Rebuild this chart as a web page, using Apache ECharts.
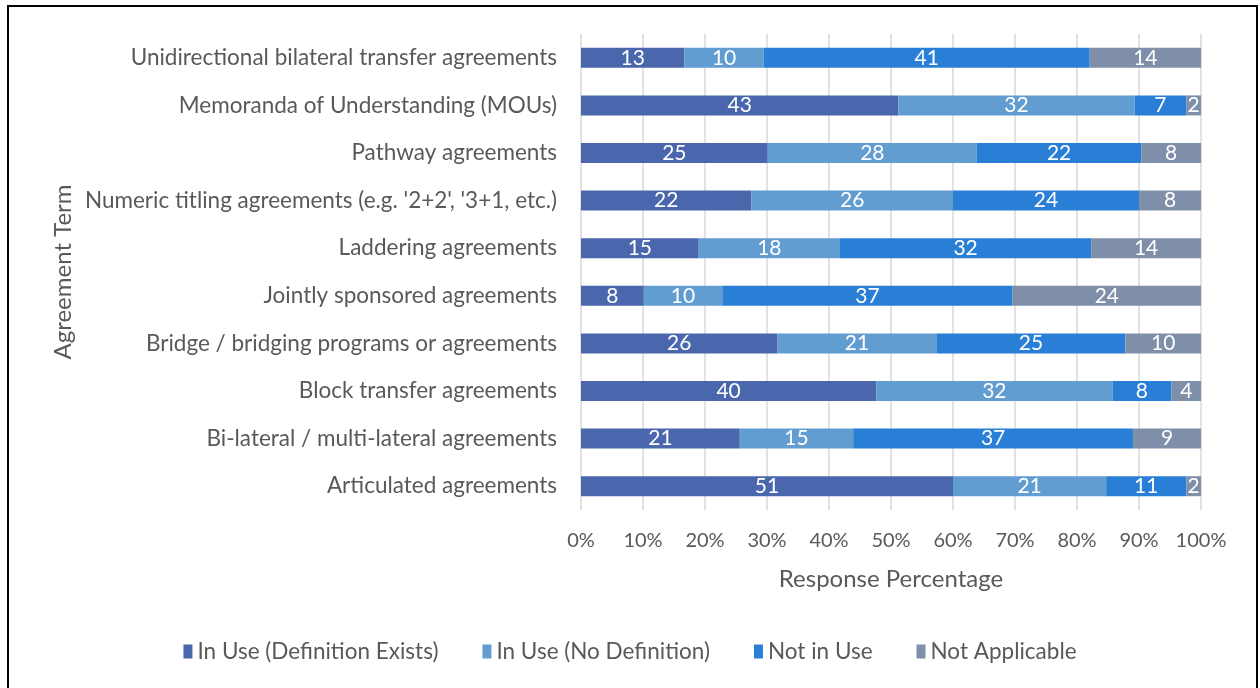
<!DOCTYPE html>
<html><head><meta charset="utf-8">
<script src="https://cdn.jsdelivr.net/npm/echarts@6/dist/echarts.min.js"></script>
<style>html,body{margin:0;padding:0;background:#fff}#c{width:1260px;height:688px}</style>
</head><body><div id="c"></div>
<script>
const categories = [
  "Unidirectional bilateral transfer agreements",
  "Memoranda of Understanding (MOUs)",
  "Pathway agreements",
  "Numeric titling agreements (e.g. '2+2', '3+1, etc.)",
  "Laddering agreements",
  "Jointly sponsored agreements",
  "Bridge / bridging programs or agreements",
  "Block transfer agreements",
  "Bi-lateral / multi-lateral agreements",
  "Articulated agreements"
];
const seriesNames = ["In Use (Definition Exists)", "In Use (No Definition)", "Not in Use", "Not Applicable"];
const inUseDefined = [13, 43, 25, 22, 15, 8, 26, 40, 21, 51];
const inUseNoDef   = [10, 32, 28, 26, 18, 10, 21, 32, 15, 21];
const notInUse     = [41, 7, 22, 24, 32, 37, 25, 8, 37, 11];
const notApplicable= [14, 2, 8, 8, 14, 24, 10, 4, 9, 2];
const colors = ["#4a66ac", "#629dd1", "#297fd5", "#7f8fa9"];

const counts = [inUseDefined, inUseNoDef, notInUse, notApplicable];
const totals = categories.map((_, i) => counts.reduce((s, a) => s + a[i], 0));
const FONT = "Lato";

const chart = echarts.init(document.getElementById('c'));
chart.setOption({
  animation: false,
  textStyle: { fontFamily: FONT },
  grid: { left: 581, right: 59, top: 34, bottom: 178, containLabel: false },
  graphic: [{
    type: 'rect', shape: { x: 8, y: 6, width: 1249, height: 700 },
    style: { fill: 'none', stroke: '#000', lineWidth: 2 }, silent: true
  }],
  legend: {
    top: 635, left: 'center', itemWidth: 9, itemHeight: 14, itemGap: 44,
    icon: 'rect',
    textStyle: { fontFamily: FONT, fontSize: 22.5, color: '#595959', padding: [0, 0, 0, 0] },
    data: seriesNames
  },
  xAxis: {
    type: 'value', min: 0, max: 100, interval: 10,
    name: 'Response Percentage', nameLocation: 'middle', nameGap: 57,
    nameTextStyle: { fontFamily: FONT, fontSize: 24, color: '#595959' },
    axisLabel: { formatter: '{value}%', fontFamily: FONT, fontSize: 20, color: '#595959', margin: 21 },
    axisLine: { show: false }, axisTick: { show: false },
    splitLine: { show: true, lineStyle: { color: '#d9d9d9', width: 1.5 } }
  },
  yAxis: {
    type: 'category', data: categories, inverse: true,
    name: 'Agreement Term', nameLocation: 'middle', nameGap: 506, nameRotate: 90,
    nameTextStyle: { fontFamily: FONT, fontSize: 24, color: '#595959' },
    axisLabel: { fontFamily: FONT, fontSize: 22.5, color: '#595959', margin: 24 },
    axisLine: { show: false }, axisTick: { show: false }
  },
  series: counts.map((arr, k) => ({
    name: seriesNames[k], type: 'bar', stack: 'total', barWidth: 20,
    itemStyle: { color: colors[k] },
    label: {
      show: true, position: 'inside', color: '#fff', fontFamily: FONT, fontSize: 21,
      formatter: p => String(arr[p.dataIndex])
    },
    data: arr.map((v, i) => v / totals[i] * 100)
  }))
});
</script></body></html>
